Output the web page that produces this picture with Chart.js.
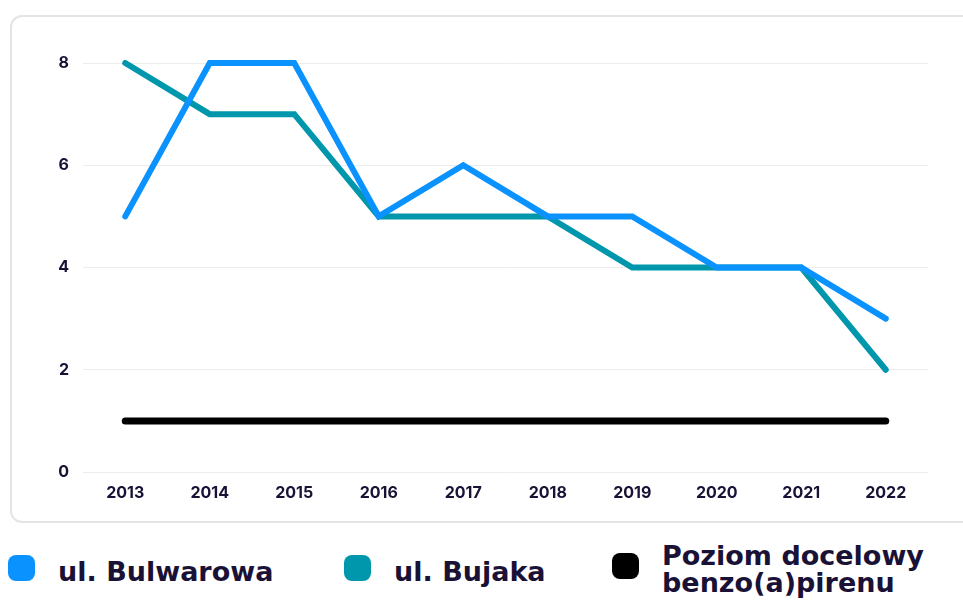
<!DOCTYPE html>
<html>
<head>
<meta charset="utf-8">
<script src="https://cdn.jsdelivr.net/npm/chart.js@4"></script>
<style>
  html, body { margin:0; padding:0; background:#fff; width:963px; height:600px; overflow:hidden; font-family: Inter, "Noto Sans", sans-serif; }
  #card { position:absolute; left:10px; top:15px; width:990px; height:508px; border:2px solid #e4e4e4; border-radius:12px; box-sizing:border-box; }
  #wrap { position:absolute; left:0; top:0; width:963px; height:520px; }
  .leg { color:#1a1236; font-family:"DejaVu Sans", sans-serif; font-weight:700; font-size:27px; line-height:27px; }
  .sw { position:absolute; width:27px; height:26px; border-radius:8px; }
  .lt { position:absolute; white-space:nowrap; }
</style>
</head>
<body>
<div id="card"></div>
<div id="wrap"><canvas id="c"></canvas></div>
<div id="legend"></div>
<script>
const categories = ["2013","2014","2015","2016","2017","2018","2019","2020","2021","2022"];
const bulwarowa = [5, 8, 8, 5, 6, 5, 5, 4, 4, 3];
const bujaka    = [8, 7, 7, 5, 5, 5, 4, 4, 4, 2];
const poziom    = [1, 1, 1, 1, 1, 1, 1, 1, 1, 1];
const seriesNames = ["ul. Bulwarowa", "ul. Bujaka", "Poziom docelowy\nbenzo(a)pirenu"];
const seriesColors = ["#0a92ff", "#0097ac", "#000000"];
const yTicks = [0, 2, 4, 6, 8];

const textColor = "#1a1236";

const ctx = document.getElementById('c');
new Chart(ctx, {
  type: 'line',
  data: {
    labels: categories,
    datasets: [
      { label: seriesNames[0], data: bulwarowa, borderColor: seriesColors[0], backgroundColor: seriesColors[0], borderWidth: 6, pointRadius: 0, borderCapStyle: 'round', tension: 0, clip: false },
      { label: seriesNames[1], data: bujaka, borderColor: seriesColors[1], backgroundColor: seriesColors[1], borderWidth: 6, pointRadius: 0, borderCapStyle: 'round', tension: 0, clip: false },
      { label: seriesNames[2], data: poziom, borderColor: seriesColors[2], backgroundColor: seriesColors[2], borderWidth: 7, pointRadius: 0, borderCapStyle: 'round', tension: 0, clip: false }
    ]
  },
  options: {
    responsive: true,
    maintainAspectRatio: false,
    animation: false,
    layout: { padding: { left: 0, right: 35, top: 63, bottom: 0 } },
    plugins: { legend: { display: false }, tooltip: { enabled: false } },
    scales: {
      x: {
        offset: true,
        grid: { display: false, drawTicks: false },
        border: { display: false },
        ticks: { color: textColor, font: { family: 'Inter', weight: '700', size: 16 }, padding: 12, maxRotation: 0 },
        afterFit: (s) => { s.height = 48; }
      },
      y: {
        min: 0, max: 8,
        afterBuildTicks: (s) => { s.ticks = yTicks.map(v => ({ value: v })); },
        grid: { color: '#ececec', lineWidth: 1, drawTicks: false },
        border: { display: false },
        ticks: { color: textColor, font: { family: 'Inter', weight: '700', size: 16 }, padding: 14 },
        afterFit: (s) => { s.width = 83; }
      }
    }
  }
});

// HTML legend built from the series arrays
const legendPos = [
  { sx: 8, sy: 555, tx: 58, ty: 558 },
  { sx: 344, sy: 555, tx: 394, ty: 558 },
  { sx: 612, sy: 553, tx: 662, ty: 542 }
];
const legend = document.getElementById('legend');
seriesNames.forEach((name, i) => {
  const p = legendPos[i];
  const sw = document.createElement('div');
  sw.className = 'sw';
  sw.style.left = p.sx + 'px'; sw.style.top = p.sy + 'px'; sw.style.background = seriesColors[i];
  legend.appendChild(sw);
  const lt = document.createElement('div');
  lt.className = 'lt leg';
  lt.style.left = p.tx + 'px'; lt.style.top = p.ty + 'px';
  lt.innerHTML = name.split('\n').join('<br>');
  legend.appendChild(lt);
});
</script>
</body>
</html>
